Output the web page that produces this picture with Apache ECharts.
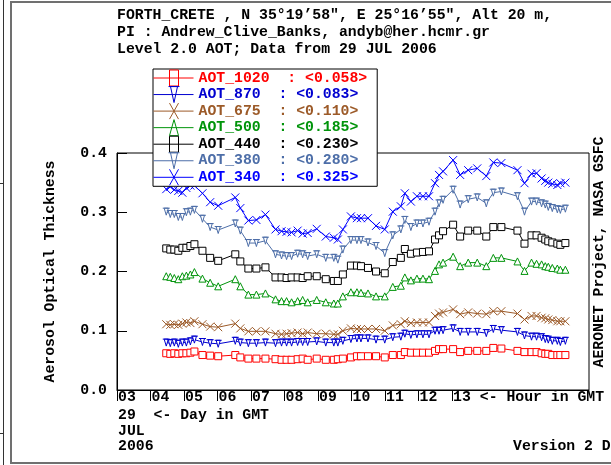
<!DOCTYPE html>
<html>
<head>
<meta charset="utf-8">
<script src="https://cdn.jsdelivr.net/npm/echarts@6/dist/echarts.min.js"></script>
<style>html,body{margin:0;padding:0;background:#fff}#c{width:611px;height:465px}</style>
</head>
<body>
<div id="c"></div>
<script>
// ---- data ----
const hours = [4.47,4.59,4.71,4.83,4.95,5.07,5.19,5.31, 5.55,5.78,6.02,6.53,6.68,6.92,7.16,7.43,
  7.73,7.91,8.06,8.21,8.39,8.54,8.69,8.96, 9.23,9.47,9.59,9.74,9.98,10.16,10.28,10.49,
  10.73,10.99,11.23,11.47,11.59,11.77,11.95,12.13, 12.31,12.49,12.61,12.73,13.03,13.24,13.48,13.75,
  14.02,14.23,14.47,14.95,15.16,15.37,15.52,15.67, 15.78,15.87,15.99,16.14,16.23,16.38];
const aot1020 = [0.062,0.061,0.062,0.061,0.062,0.062,0.063,0.065, 0.059,0.058,0.057,0.059,0.055,0.053,0.053,0.053,
  0.052,0.051,0.051,0.051,0.052,0.053,0.051,0.053, 0.051,0.051,0.052,0.053,0.055,0.057,0.057,0.057,
  0.057,0.055,0.059,0.059,0.064,0.063,0.063,0.063, 0.063,0.066,0.069,0.069,0.069,0.064,0.066,0.066,
  0.066,0.071,0.070,0.066,0.064,0.064,0.064,0.062, 0.061,0.061,0.059,0.059,0.059,0.059];
const aot870 = [0.080,0.079,0.080,0.078,0.080,0.080,0.082,0.085, 0.081,0.079,0.078,0.083,0.080,0.079,0.079,0.080,
  0.079,0.080,0.080,0.080,0.081,0.081,0.081,0.082, 0.080,0.080,0.080,0.083,0.086,0.087,0.087,0.087,
  0.085,0.085,0.089,0.090,0.095,0.093,0.094,0.094, 0.094,0.100,0.100,0.101,0.104,0.098,0.098,0.098,
  0.096,0.103,0.101,0.098,0.092,0.090,0.090,0.089, 0.086,0.085,0.083,0.083,0.081,0.083];
const aot675 = [0.111,0.110,0.111,0.110,0.112,0.114,0.113,0.116, 0.111,0.107,0.106,0.112,0.104,0.099,0.099,0.099,
  0.095,0.094,0.095,0.096,0.097,0.095,0.097,0.095, 0.095,0.094,0.094,0.100,0.104,0.103,0.103,0.103,
  0.103,0.100,0.109,0.111,0.116,0.113,0.114,0.114, 0.114,0.125,0.129,0.131,0.136,0.128,0.131,0.129,
  0.128,0.133,0.133,0.129,0.119,0.125,0.125,0.122, 0.121,0.119,0.118,0.116,0.116,0.116];
const aot500 = [0.192,0.191,0.189,0.187,0.192,0.193,0.195,0.199, 0.188,0.181,0.175,0.187,0.175,0.161,0.161,0.163,
  0.153,0.150,0.150,0.148,0.150,0.152,0.148,0.152, 0.148,0.146,0.146,0.158,0.165,0.165,0.164,0.163,
  0.158,0.158,0.174,0.176,0.190,0.185,0.188,0.188, 0.187,0.201,0.212,0.215,0.225,0.209,0.215,0.215,
  0.209,0.223,0.223,0.217,0.201,0.215,0.213,0.212, 0.209,0.208,0.206,0.205,0.203,0.203];
const aot440 = [0.239,0.237,0.237,0.235,0.240,0.240,0.243,0.246, 0.235,0.223,0.218,0.229,0.217,0.205,0.205,0.207,
  0.190,0.190,0.189,0.190,0.190,0.189,0.192,0.192, 0.187,0.184,0.184,0.195,0.210,0.210,0.209,0.206,
  0.200,0.197,0.216,0.223,0.238,0.230,0.232,0.233, 0.234,0.254,0.261,0.268,0.279,0.259,0.269,0.269,
  0.259,0.275,0.275,0.269,0.247,0.261,0.261,0.257, 0.254,0.251,0.249,0.247,0.245,0.248];
const aot380 = [0.301,0.297,0.297,0.292,0.292,0.300,0.301,0.304, 0.289,0.275,0.270,0.281,0.269,0.248,0.248,0.252,
  0.229,0.227,0.226,0.226,0.230,0.229,0.226,0.229, 0.223,0.223,0.220,0.237,0.253,0.253,0.253,0.249,
  0.243,0.231,0.261,0.271,0.287,0.275,0.281,0.281, 0.284,0.301,0.315,0.321,0.338,0.313,0.322,0.325,
  0.315,0.333,0.335,0.327,0.301,0.318,0.318,0.315, 0.313,0.309,0.307,0.305,0.304,0.306];
const aot340 = [0.339,0.343,0.338,0.336,0.333,0.341,0.345,0.345, 0.332,0.317,0.311,0.325,0.307,0.286,0.287,0.296,
  0.271,0.268,0.267,0.266,0.269,0.264,0.265,0.272, 0.259,0.257,0.254,0.271,0.293,0.290,0.290,0.290,
  0.277,0.271,0.301,0.310,0.332,0.318,0.327,0.327, 0.327,0.349,0.363,0.369,0.388,0.363,0.371,0.374,
  0.361,0.384,0.383,0.371,0.349,0.365,0.366,0.357, 0.353,0.350,0.348,0.346,0.349,0.350];
const seriesNames = ['AOT_1020','AOT_870','AOT_675','AOT_500','AOT_440','AOT_380','AOT_340'];
const seriesMeans = ['0.058','0.083','0.110','0.185','0.230','0.280','0.325'];
const hourTicks = [3,4,5,6,7,8,9,10,11,12,13];
const yTicks = [0.0,0.1,0.2,0.3,0.4];
const titleLines = ['FORTH_CRETE , N 35\u00b019\u201958", E 25\u00b016\u201955", Alt 20 m,',
  'PI : Andrew_Clive_Banks, andyb@her.hcmr.gr',
  'Level 2.0 AOT; Data from 29 JUL 2006'];
const dateLines = ['29  <- Day in GMT','JUL','2006'];

// ---- styles ----
const values = [aot1020, aot870, aot675, aot500, aot440, aot380, aot340];
const colors = ['#ff0000','#0000d0','#9c5a28','#00940a','#000000','#4d6ea8','#0000ff'];
const SQ = 'path://M0,0L10,0L10,10L0,10Z';
const TD = 'path://M0,0L10,0M2,0L5,10L8,0Z';
const XX = 'path://M0,0L10,10M10,0L0,10';
const TU = 'path://M5,0L10,10L0,10Z';
const symbols = [SQ, TD, XX, TU, SQ, TD, XX];
const legIcons = [
  'path://M0,8L40,8M16,0L25,0L25,16L16,16Z',
  'path://M0,8L40,8M15,0L26,0M17,0L20.5,16L24,0Z',
  'path://M0,8L40,8M16,0L25,16M25,0L16,16',
  'path://M0,8L40,8M20.5,0L25,16L16,16Z',
  'path://M0,8L40,8M16,0L25,0L25,16L16,16Z',
  'path://M0,8L40,8M15,0L26,0M17,0L20.5,16L24,0Z',
  'path://M0,8L40,8M16,0L25,16M25,0L16,16'
];
const FONT = '"Liberation Mono","DejaVu Sans Mono",monospace';
const FS = 14.8;
const fontStr = 'bold ' + FS + 'px ' + FONT;

const series = seriesNames.map((n, i) => ({
  name: n, type: 'line',
  data: hours.map((h, k) => [h, values[i][k]]),
  symbol: symbols[i], symbolSize: i === 2 || i === 6 ? 8 : 7,
  symbolKeepAspect: false,
  lineStyle: { color: colors[i], width: 1 },
  itemStyle: { color: '#fff', borderColor: colors[i], borderWidth: 1 },
  emphasis: { disabled: true },
  z: 2 + (7 - i) * 0.01
}));

const chart = echarts.init(document.getElementById('c'), null, { renderer: 'canvas' });
const txt = (t, x, y, extra) => Object.assign({
  type: 'text', silent: true,
  style: { text: t, x: x, y: y, font: fontStr, fill: '#000', textAlign: 'left', verticalAlign: 'middle', textVerticalAlign: 'middle' }
}, extra || {});

chart.setOption({
  animation: false,
  backgroundColor: '#fff',
  grid: { left: 117, right: 22, top: 153, bottom: 75, show: true, borderColor: '#000', borderWidth: 1, backgroundColor: 'transparent' },
  xAxis: {
    type: 'value', min: 3, max: 17.085, interval: 1,
    axisLine: { show: true, lineStyle: { color: '#000', width: 1 } },
    axisTick: { show: true, inside: false, length: 11, customValues: hourTicks, lineStyle: { color: '#000' } },
    axisLabel: {
      customValues: hourTicks, color: '#000', fontFamily: FONT, fontWeight: 'bold', fontSize: FS,
      align: 'left', verticalAlign: 'middle', margin: 7, padding: [0, 0, 0, 1],
      formatter: v => (v < 10 ? '0' : '') + v + (v === 13 ? ' <- Hour in GMT' : '')
    },
    splitLine: { show: false }
  },
  yAxis: {
    type: 'value', min: 0, max: 0.4, interval: 0.1,
    name: 'Aerosol Optical Thickness', nameLocation: 'middle', nameRotate: 90, nameGap: 59,
    nameTextStyle: { color: '#000', fontFamily: FONT, fontWeight: 'bold', fontSize: FS },
    axisLine: { show: true, lineStyle: { color: '#000', width: 1 } },
    axisTick: { show: true, inside: true, length: 10, lineStyle: { color: '#000' } },
    axisLabel: { customValues: yTicks, color: '#000', fontFamily: FONT, fontWeight: 'bold', fontSize: FS, margin: 10,
      formatter: v => v.toFixed(1) },
    splitLine: { show: false }
  },
  legend: {
    orient: 'vertical', left: 153, top: 69,
    itemWidth: 40, itemHeight: 16, itemGap: -0.45,
    padding: [0.5, 10, 0.5, 0],
    backgroundColor: '#fff', borderColor: '#000', borderWidth: 1,
    selectedMode: false,
    symbolKeepAspect: false,
    formatter: n => n + '  : <' + seriesMeans[seriesNames.indexOf(n)] + '>',
    textStyle: { fontFamily: FONT, fontWeight: 'bold', fontSize: FS },
    data: seriesNames.map((n, i) => ({
      name: n, icon: legIcons[i],
      itemStyle: { color: '#fff', borderColor: colors[i], borderWidth: 1 },
      textStyle: { color: colors[i] }
    }))
  },
  graphic: [
    { type: 'rect', silent: true, shape: { x: 11, y: 2, width: 640, height: 461 }, style: { fill: 'none', stroke: '#707070', lineWidth: 2 }, z: -1 },
    { type: 'line', silent: true, shape: { x1: 3.5, y1: 0, x2: 3.5, y2: 465 }, style: { stroke: '#333', lineWidth: 1 } },
    { type: 'line', silent: true, shape: { x1: 0, y1: 183.5, x2: 4, y2: 183.5 }, style: { stroke: '#333', lineWidth: 1 } },
    { type: 'line', silent: true, shape: { x1: 0, y1: 433.5, x2: 4, y2: 433.5 }, style: { stroke: '#333', lineWidth: 1 } },
    txt(titleLines[0], 117, 15),
    txt(titleLines[1], 117, 32),
    txt(titleLines[2], 117, 49),
    txt(dateLines[0], 118, 415),
    txt(dateLines[1], 118, 431),
    txt(dateLines[2], 118, 446),
    txt('Version 2 Direct Sun Algorithm', 513, 446),
    { type: 'text', silent: true, x: 599, y: 252, rotation: Math.PI / 2,
      style: { text: 'AERONET Project, NASA GSFC', x: 0, y: 0, font: fontStr, fill: '#000', textAlign: 'center', verticalAlign: 'middle', textVerticalAlign: 'middle' } }
  ],
  series: series
});
</script>
</body>
</html>
